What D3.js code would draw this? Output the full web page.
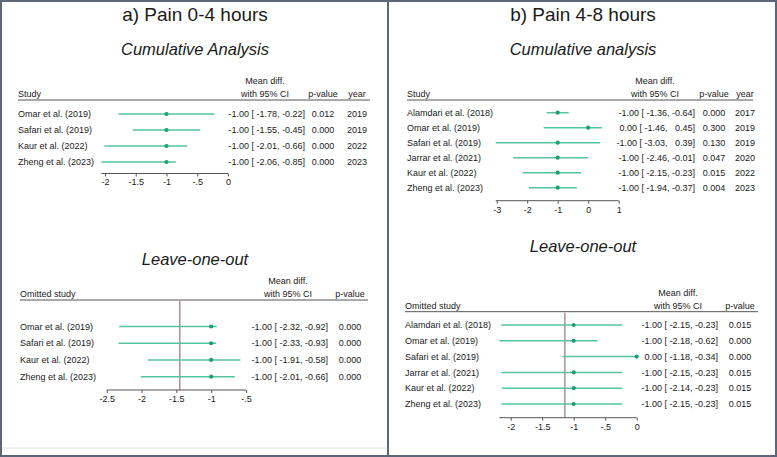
<!DOCTYPE html>
<html>
<head>
<meta charset="utf-8">
<script src="https://cdn.jsdelivr.net/npm/d3@7"></script>
<style>
  body { margin: 0; background: #fff; }
  svg text { font-family: "Liberation Sans", Arial, sans-serif; fill: #1a1a1a; }
</style>
</head>
<body>
<svg id="chart"></svg>
<script>
// ---- data ----
let studiesA = ["Omar et al. (2019)", "Safari et al. (2019)", "Kaur et al. (2022)", "Zheng et al. (2023)"];
let studiesB = ["Alamdari et al. (2018)", "Omar et al. (2019)", "Safari et al. (2019)", "Jarrar et al. (2021)", "Kaur et al. (2022)", "Zheng et al. (2023)"];

// a) pain 0-4 h, cumulative
let cumEstA = [-1.00, -1.00, -1.00, -1.00];
let cumLoA = [-1.78, -1.55, -2.01, -2.06];
let cumHiA = [-0.22, -0.45, -0.66, -0.85];
let cumPA = ["0.012", "0.000", "0.000", "0.000"];
let cumYearA = ["2019", "2019", "2022", "2023"];
let cumTicksA = [-2, -1.5, -1, -0.5, 0];
let cumTickLabelsA = ["-2", "-1.5", "-1", "-.5", "0"];

// a) pain 0-4 h, leave-one-out
let looEstA = [-1.00, -1.00, -1.00, -1.00];
let looLoA = [-2.32, -2.33, -1.91, -2.01];
let looHiA = [-0.92, -0.93, -0.58, -0.66];
let looPA = ["0.000", "0.000", "0.000", "0.000"];
let looOverallA = -1.45;
let looTicksA = [-2.5, -2, -1.5, -1, -0.5];
let looTickLabelsA = ["-2.5", "-2", "-1.5", "-1", "-.5"];

// b) pain 4-8 h, cumulative
let cumEstB = [-1.00, 0.00, -1.00, -1.00, -1.00, -1.00];
let cumLoB = [-1.36, -1.46, -3.03, -2.46, -2.15, -1.94];
let cumHiB = [-0.64, 0.45, 0.39, -0.01, -0.23, -0.37];
let cumPB = ["0.000", "0.300", "0.130", "0.047", "0.015", "0.004"];
let cumYearB = ["2017", "2019", "2019", "2020", "2022", "2023"];
let cumTicksB = [-3, -2, -1, 0, 1];
let cumTickLabelsB = ["-3", "-2", "-1", "0", "1"];

// b) pain 4-8 h, leave-one-out
let looEstB = [-1.00, -1.00, 0.00, -1.00, -1.00, -1.00];
let looLoB = [-2.15, -2.18, -1.18, -2.15, -2.14, -2.15];
let looHiB = [-0.23, -0.62, -0.34, -0.23, -0.23, -0.23];
let looPB = ["0.015", "0.000", "0.000", "0.015", "0.015", "0.015"];
let looOverallB = -1.14;
let looTicksB = [-2, -1.5, -1, -0.5, 0];
let looTickLabelsB = ["-2", "-1.5", "-1", "-.5", "0"];

let W = 777, H = 457;
let lineColor = "#55c4a1", dotColor = "#1c9e76", refColor = "#8a5560";

let svg = d3.select("#chart").attr("width", W).attr("height", H);

function fmt(v) {
    let s = v.toFixed(2);
    return v >= 0 ? "\u2007" + s : s;
}

function forest(p) {
    let L = p.layout;
    let g = svg.append("g");

    g.append("text").attr("x", L.center).attr("y", L.titleY)
        .attr("text-anchor", "middle").style("font-size", "16.5px").style("font-style", "italic")
        .text(p.title);

    // header
    g.append("text").attr("x", L.left).attr("y", L.headY + 13).style("font-size", "9px").text(p.head);
    g.append("text").attr("x", L.ciX - 40).attr("y", L.headY).attr("text-anchor", "middle").style("font-size", "9px").text("Mean diff.");
    g.append("text").attr("x", L.ciX - 40).attr("y", L.headY + 13).attr("text-anchor", "middle").style("font-size", "9px").text("with 95% CI");
    g.append("text").attr("x", L.pX).attr("y", L.headY + 13).attr("text-anchor", "middle").style("font-size", "9px").text("p-value");
    if (p.year) g.append("text").attr("x", L.yearX).attr("y", L.headY + 13).attr("text-anchor", "middle").style("font-size", "9px").text("year");
    g.append("line").attr("x1", L.left).attr("x2", L.right).attr("y1", L.headY + 16).attr("y2", L.headY + 16)
        .attr("stroke", "#555").attr("stroke-width", 1);

    let x = d3.scaleLinear().domain([p.ticks[0], p.ticks[p.ticks.length - 1]]).range([L.x0, L.x1]);
    let y = d3.scalePoint().domain(d3.range(p.studies.length)).range([L.y0, L.y1]);

    let lo = d3.min([d3.min(p.lo), p.ticks[0]]);
    let hi = d3.max([d3.max(p.hi), d3.max(p.est), p.ticks[p.ticks.length - 1]]);

    if (p.overall != null) {
        g.append("line").attr("x1", x(p.overall)).attr("x2", x(p.overall))
            .attr("y1", L.headY + 17).attr("y2", L.axisY)
            .attr("stroke", refColor).attr("stroke-width", 1);
    }

    let rows = g.selectAll("g.row").data(p.studies).enter().append("g");
    rows.append("text").attr("x", L.left).attr("y", (d, i) => y(i) + 3.2).style("font-size", "9px").text(d => d);
    rows.append("line")
        .attr("x1", (d, i) => x(Math.min(p.lo[i], p.est[i])))
        .attr("x2", (d, i) => x(Math.max(p.hi[i], p.est[i])))
        .attr("y1", (d, i) => y(i)).attr("y2", (d, i) => y(i))
        .attr("stroke", lineColor).attr("stroke-width", 1.5);
    rows.append("circle").attr("cx", (d, i) => x(p.est[i])).attr("cy", (d, i) => y(i)).attr("r", 2.1)
        .attr("fill", dotColor);
    rows.append("text").attr("x", L.ciX).attr("y", (d, i) => y(i) + 3.2).attr("text-anchor", "end")
        .style("font-size", "9px").style("white-space", "pre")
        .text((d, i) => fmt(p.est[i]) + " [ " + fmt(p.lo[i]) + ", " + fmt(p.hi[i]) + "]");
    rows.append("text").attr("x", L.pX).attr("y", (d, i) => y(i) + 3.2).attr("text-anchor", "middle")
        .style("font-size", "9px").text((d, i) => p.pv[i]);
    if (p.year) rows.append("text").attr("x", L.yearX).attr("y", (d, i) => y(i) + 3.2).attr("text-anchor", "middle")
        .style("font-size", "9px").text((d, i) => p.year[i]);

    // axis
    let axis = d3.axisBottom(x).tickValues(p.ticks).tickFormat((d, i) => p.tickLabels[i]).tickSize(3).tickSizeOuter(0);
    let ag = g.append("g").attr("transform", `translate(0,${L.axisY})`).call(axis);
    ag.select(".domain").remove();
    ag.append("line").attr("x1", x(lo)).attr("x2", x(hi)).attr("stroke", "#555").attr("stroke-width", 1);
    ag.selectAll(".tick line").attr("stroke", "#555");
    ag.selectAll(".tick text").attr("y", 5.5).style("font-size", "9px").style("font-family", "Liberation Sans, Arial, sans-serif").attr("fill", "#1a1a1a");
}

// panel titles
svg.append("text").attr("x", 195).attr("y", 21).attr("text-anchor", "middle").style("font-size", "19px").text("a) Pain 0-4 hours");
svg.append("text").attr("x", 583).attr("y", 21).attr("text-anchor", "middle").style("font-size", "19px").text("b) Pain 4-8 hours");

forest({ title: "Cumulative Analysis", head: "Study", studies: studiesA, est: cumEstA, lo: cumLoA, hi: cumHiA, pv: cumPA, year: cumYearA,
    ticks: cumTicksA, tickLabels: cumTickLabelsA, overall: null,
    layout: { center: 195, titleY: 55, left: 18, right: 370, headY: 84, y0: 114, y1: 162, axisY: 173.5, x0: 105, x1: 228, ciX: 305, pX: 323, yearX: 357 } });

forest({ title: "Leave-one-out", head: "Omitted study", studies: studiesA, est: looEstA, lo: looLoA, hi: looHiA, pv: looPA, year: null,
    ticks: looTicksA, tickLabels: looTickLabelsA, overall: looOverallA,
    layout: { center: 195, titleY: 265, left: 20, right: 368, headY: 284, y0: 326.5, y1: 376.7, axisY: 390, x0: 106.7, x1: 246, ciX: 328, pX: 350 } });

forest({ title: "Cumulative analysis", head: "Study", studies: studiesB, est: cumEstB, lo: cumLoB, hi: cumHiB, pv: cumPB, year: cumYearB,
    ticks: cumTicksB, tickLabels: cumTickLabelsB, overall: null,
    layout: { center: 583, titleY: 55, left: 407, right: 753, headY: 84, y0: 112.7, y1: 187.7, axisY: 200.7, x0: 496.7, x1: 618.7, ciX: 695, pX: 714, yearX: 745 } });

forest({ title: "Leave-one-out", head: "Omitted study", studies: studiesB, est: looEstB, lo: looLoB, hi: looHiB, pv: looPB, year: null,
    ticks: looTicksB, tickLabels: looTickLabelsB, overall: looOverallB,
    layout: { center: 583, titleY: 252, left: 405, right: 758, headY: 295.7, y0: 325, y1: 404, axisY: 417.7, x0: 510.7, x1: 636.7, ciX: 718, pX: 740 } });

// frame
svg.append("line").attr("x1", 2).attr("x2", 386).attr("y1", 448).attr("y2", 448).attr("stroke", "#e2e2e2");
svg.append("rect").attr("x", 1).attr("y", 1).attr("width", W - 2).attr("height", H - 2)
    .attr("fill", "none").attr("stroke", "#5d6678").attr("stroke-width", 2);
svg.append("line").attr("x1", 388).attr("x2", 388).attr("y1", 0).attr("y2", H).attr("stroke", "#5d6678").attr("stroke-width", 2);
</script>
</body>
</html>
